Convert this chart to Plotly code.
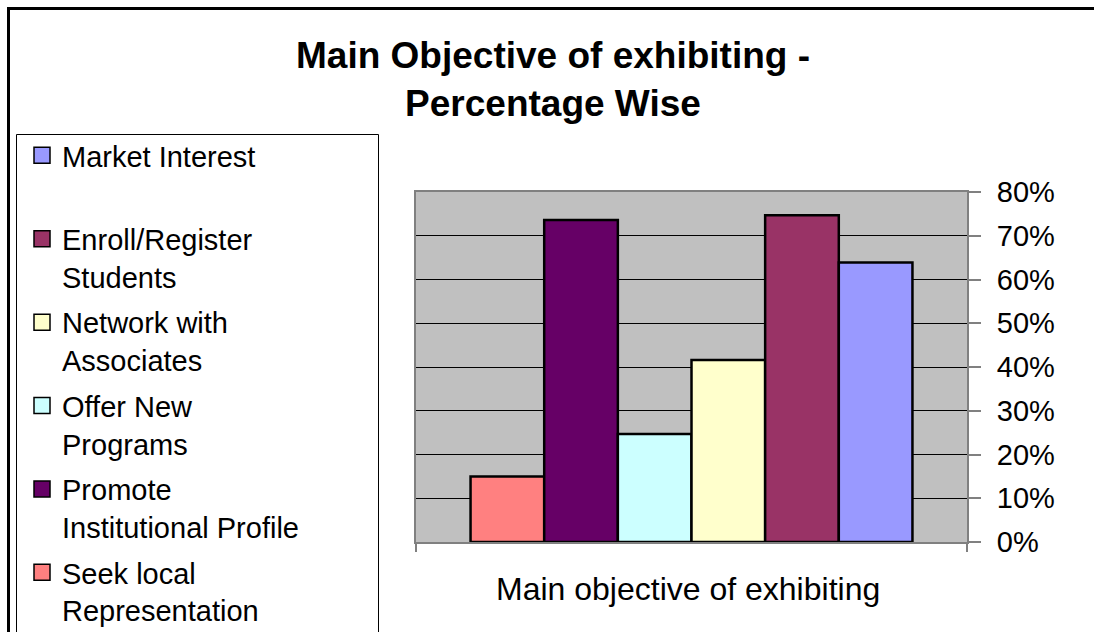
import plotly.graph_objects as go

# ---- data ----
categories = ["Seek local Representation", "Promote Institutional Profile",
              "Offer New Programs", "Network with Associates",
              "Enroll/Register Students", "Market Interest"]
legend_labels = ["Seek local<br>Representation", "Promote<br>Institutional Profile",
                 "Offer New<br>Programs", "Network with<br>Associates",
                 "Enroll/Register<br>Students", "Market Interest<br>&nbsp;"]
values = [15.0, 73.6, 24.7, 41.6, 74.7, 63.9]
colors = ["#FF8080", "#660066", "#CCFFFF", "#FFFFCC", "#993366", "#9999FF"]
y_ticks = [0, 10, 20, 30, 40, 50, 60, 70, 80]
y_tick_labels = [f"{v}%" for v in y_ticks]
title_text = "Main Objective of exhibiting -<br>Percentage Wise"
x_title = "Main objective of exhibiting"

W, H = 1094, 632
L, R, T, B = 416, 967, 192, 542  # plot area in pixels
FONT = "Liberation Sans, Arial, sans-serif"

def px_x(p):
    return (p - L) / (R - L)

def px_y(p):
    return (B - p) / (B - T)

fig = go.Figure()

for name, v, c in zip(categories, values, colors):
    fig.add_trace(go.Bar(
        x=[0], y=[v], name=name, marker=dict(color=c, line=dict(color="black", width=2.5)),
        showlegend=False, hovertemplate=name + ": %{y}%<extra></extra>"))

# legend entries (top to bottom: reversed order of bars)
for lab, c in reversed(list(zip(legend_labels, colors))):
    fig.add_trace(go.Scatter(
        x=[None], y=[None], mode="markers", name=lab, legendgroup=lab,
        marker=dict(symbol="square", size=16, color=c, line=dict(color="black", width=1.5))))

fig.update_layout(
    width=W, height=H,
    margin=dict(l=L, r=W - R, t=T, b=H - B, autoexpand=False),
    paper_bgcolor="white", plot_bgcolor="#C0C0C0",
    font=dict(family=FONT, color="black"),
    barmode="group", bargap=0.198, bargroupgap=0,
    title=dict(text=title_text, x=553 / W, xanchor="center", xref="container",
               y=1 - 68 / H, yanchor="middle", yref="container",
               font=dict(family=FONT, size=37, color="black", weight="bold")),
    legend=dict(x=22 / W, xanchor="left", xref="container",
                y=1 - 130 / H, yanchor="top", yref="container",
                maxheight=600,
                font=dict(family=FONT, size=29, color="black"),
                valign="top", tracegroupgap=5, bgcolor="rgba(0,0,0,0)",
                borderwidth=0, itemclick=False, itemdoubleclick=False),
    xaxis=dict(range=[-0.5, 0.5], showticklabels=False, tickvals=[-0.5, 0.5],
               ticks="outside", ticklen=8, tickcolor="#808080", tickwidth=1.5,
               showline=True, linecolor="#808080", linewidth=2, mirror=True,
               showgrid=False, zeroline=False, fixedrange=True),
    yaxis=dict(range=[0, 80], side="right", tickvals=y_ticks, ticktext=y_tick_labels,
               ticks="outside", ticklen=12, tickcolor="#808080", tickwidth=1.5,
               ticklabelstandoff=10,
               tickfont=dict(family=FONT, size=29, color="black"),
               showline=True, linecolor="#808080", linewidth=2, mirror=True,
               showgrid=True, gridcolor="black", gridwidth=1, zeroline=False,
               fixedrange=True),
    showlegend=True,
)

# x-axis title
fig.add_annotation(text=x_title, xref="paper", yref="paper", x=px_x(688), y=px_y(589),
                   xanchor="center", yanchor="middle", showarrow=False,
                   font=dict(family=FONT, size=32, color="black"))

# outer chart frame and legend box
fig.add_shape(type="rect", xref="paper", yref="paper",
              x0=px_x(8.5), y0=px_y(8.5), x1=px_x(W + 20), y1=px_y(H + 20),
              line=dict(color="black", width=3), fillcolor="rgba(0,0,0,0)", layer="above")
fig.add_shape(type="rect", xref="paper", yref="paper",
              x0=px_x(16.5), y0=px_y(134.5), x1=px_x(378.5), y1=px_y(H + 20),
              line=dict(color="black", width=1), fillcolor="rgba(0,0,0,0)", layer="above")

fig.write_html("out.html", config=dict(displayModeBar=False),
               post_script="document.body.style.margin='0';document.body.style.overflow='hidden';")
